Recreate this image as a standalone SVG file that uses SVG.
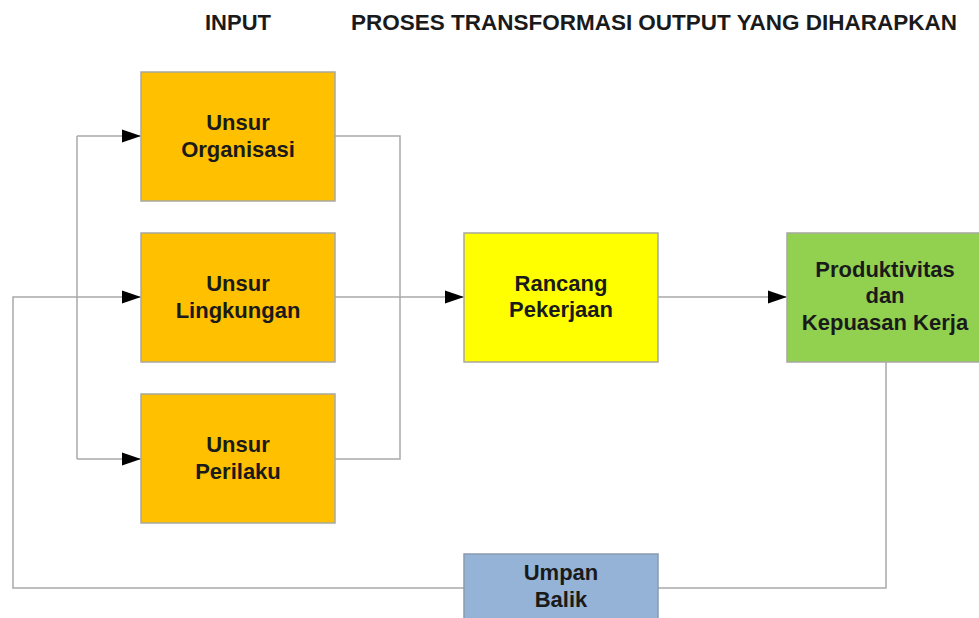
<svg xmlns="http://www.w3.org/2000/svg" width="979" height="618" viewBox="0 0 979 618">
  <style>
    .hdr { font-family: "Liberation Sans", Arial, sans-serif; font-weight: bold; font-size: 22px; fill: #1a1a1a; }
    .lbl { font-family: "Liberation Sans", Arial, sans-serif; font-weight: bold; font-size: 22px; fill: #1a1a1a; text-anchor: middle; }
    .box { stroke: #a8a8a0; stroke-width: 1.5; }
    .org { fill: #ffc000; }
    .yel { fill: #ffff00; }
    .grn { fill: #92d050; }
    .blu { fill: #95b3d7; stroke: #8a9ab0; }
    .wire { fill: none; stroke: #a9a9a9; stroke-width: 1.5; }
  </style>
  <defs>
    <marker id="arrow" markerUnits="userSpaceOnUse" markerWidth="20" markerHeight="14" refX="19" refY="7" orient="auto">
      <path d="M0,0.5 L19,7 L0,13.5 Z" fill="#000"/>
    </marker>
  </defs>

  <rect width="979" height="618" fill="#fff"/>

  <!-- column headings -->
  <text class="hdr" x="205" y="30">INPUT</text>
  <text class="hdr" x="351" y="30" textLength="606" lengthAdjust="spacingAndGlyphs">PROSES TRANSFORMASI OUTPUT YANG DIHARAPKAN</text>

  <!-- connectors -->
  <g id="connectors">
    <!-- distribution bus into the three input elements -->
    <path class="wire" d="M77,136 V459"/>
    <path class="wire" d="M77,136 H141" marker-end="url(#arrow)"/>
    <path class="wire" d="M77,459 H141" marker-end="url(#arrow)"/>
    <!-- collector bus out of the input elements -->
    <path class="wire" d="M335,136 H400 V459 H335"/>
    <path class="wire" d="M335,297 H464" marker-end="url(#arrow)"/>
    <!-- job design to output -->
    <path class="wire" d="M658,297 H787" marker-end="url(#arrow)"/>
    <!-- feedback loop -->
    <path class="wire" d="M886,362 V588 H658"/>
    <path class="wire" d="M464,588 H13 V297 H141" marker-end="url(#arrow)"/>
  </g>

  <g id="unsur-organisasi">
    <rect class="box org" x="141" y="72" width="194" height="129"/>
    <text class="lbl" x="238" y="130">Unsur</text>
    <text class="lbl" x="238" y="157">Organisasi</text>
  </g>

  <g id="unsur-lingkungan">
    <rect class="box org" x="141" y="233" width="194" height="129"/>
    <text class="lbl" x="238" y="291">Unsur</text>
    <text class="lbl" x="238" y="318">Lingkungan</text>
  </g>

  <g id="unsur-perilaku">
    <rect class="box org" x="141" y="394" width="194" height="129"/>
    <text class="lbl" x="238" y="452">Unsur</text>
    <text class="lbl" x="238" y="479">Perilaku</text>
  </g>

  <g id="rancang-pekerjaan">
    <rect class="box yel" x="464" y="233" width="194" height="129"/>
    <text class="lbl" x="561" y="291">Rancang</text>
    <text class="lbl" x="561" y="317">Pekerjaan</text>
  </g>

  <g id="produktivitas">
    <rect class="box grn" x="787" y="233" width="196" height="129"/>
    <text class="lbl" x="885" y="277">Produktivitas</text>
    <text class="lbl" x="885" y="303">dan</text>
    <text class="lbl" x="885" y="330">Kepuasan Kerja</text>
  </g>

  <g id="umpan-balik">
    <rect class="box blu" x="464" y="554" width="194" height="70"/>
    <text class="lbl" x="561" y="580">Umpan</text>
    <text class="lbl" x="561" y="607">Balik</text>
  </g>
</svg>
